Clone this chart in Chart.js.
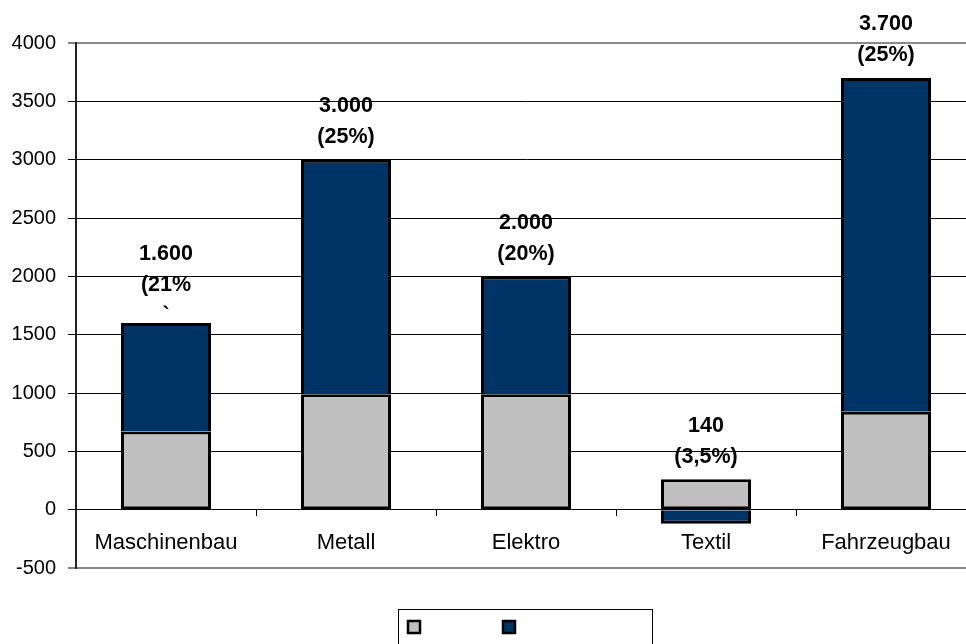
<!DOCTYPE html>
<html>
<head>
<meta charset="utf-8">
<script src="https://cdn.jsdelivr.net/npm/chart.js@4/dist/chart.umd.min.js"></script>
<style>
  html, body { margin: 0; padding: 0; background: #fff; overflow: hidden; }
  #wrap { width: 990px; height: 644px; }
</style>
</head>
<body>
<div id="wrap"><canvas id="c" width="990" height="644"></canvas></div>
<script>
// Branches on the category axis
const categories = ['Maschinenbau', 'Metall', 'Elektro', 'Textil', 'Fahrzeugbau'];
// Lower (grey) segment of each stacked bar
const baseValues = [670, 990, 990, 260, 840];
// Upper (dark blue) segment of each stacked bar
const changeValues = [930, 2010, 1010, -120, 2860];
// Text shown above each bar, one entry per line
const barLabels = [
  ['1.600', '(21%', '`'],
  ['3.000', '(25%)'],
  ['2.000', '(20%)'],
  ['140', '(3,5%)'],
  ['3.700', '(25%)']
];
// Value axis range and step
const yMin = -500;
const yMax = 4000;
const yStep = 500;

const FONT = '"Liberation Sans", Arial, Helvetica, sans-serif';

// Bold labels stacked above the top of each bar
const barLabelPlugin = {
  id: 'barLabels',
  afterDatasetsDraw(chart) {
    const ctx = chart.ctx;
    const metas = chart.data.datasets.map((d, i) => chart.getDatasetMeta(i));
    ctx.save();
    ctx.font = 'bold 21.5px ' + FONT;
    ctx.fillStyle = '#000';
    ctx.textAlign = 'center';
    ctx.textBaseline = 'middle';
    categories.forEach((cat, i) => {
      let top = Infinity, x = 0;
      metas.forEach(m => {
        const el = m.data[i];
        top = Math.min(top, el.y, el.base);
        x = el.x;
      });
      const lines = barLabels[i];
      const lh = 31;
      const center = top - 38;
      const start = center - (lines.length - 1) * lh / 2;
      lines.forEach((t, k) => ctx.fillText(t, x, start + k * lh));
    });
    ctx.restore();
  }
};

// Framed legend with colour swatches below the plot
const boxLegendPlugin = {
  id: 'boxLegend',
  afterDraw(chart) {
    const ctx = chart.ctx;
    ctx.save();
    ctx.strokeStyle = '#000';
    ctx.lineWidth = 1;
    ctx.strokeRect(398.5, 609.5, 254, 60);
    const xs = [407, 502];
    chart.data.datasets.forEach((ds, i) => {
      ctx.fillStyle = ds.backgroundColor;
      ctx.fillRect(xs[i], 620, 14, 14);
      ctx.lineWidth = 2.5;
      ctx.strokeStyle = '#000';
      ctx.strokeRect(xs[i] + 1, 621, 12, 12);
    });
    ctx.restore();
  }
};

new Chart(document.getElementById('c'), {
  type: 'bar',
  data: {
    labels: categories,
    datasets: [
      {
        label: '',
        data: baseValues,
        backgroundColor: '#C0C0C0',
        borderColor: '#000',
        borderWidth: 3,
        borderSkipped: false,
        categoryPercentage: 1,
        barPercentage: 0.5
      },
      {
        label: '',
        data: changeValues,
        backgroundColor: '#003366',
        borderColor: '#000',
        borderWidth: 3,
        borderSkipped: 'start',
        categoryPercentage: 1,
        barPercentage: 0.5
      }
    ]
  },
  options: {
    responsive: false,
    animation: false,
    devicePixelRatio: 1,
    layout: { padding: { top: 43, bottom: 76, left: 0, right: 14 } },
    plugins: {
      legend: { display: false },
      tooltip: { enabled: false }
    },
    scales: {
      x: {
        stacked: true,
        position: { y: 0 },
        offset: true,
        grid: {
          offset: true,
          drawOnChartArea: false,
          drawTicks: true,
          tickLength: 6,
          tickColor: '#000',
          lineWidth: 1
        },
        border: { display: true, color: '#000', width: 1 },
        ticks: {
          color: '#000',
          padding: 14,
          maxRotation: 0,
          autoSkip: false,
          font: { family: FONT, size: 22 }
        }
      },
      y: {
        stacked: true,
        min: yMin,
        max: yMax,
        afterFit(scale) { scale.width = 76; },
        grid: {
          color: c => (c.tick && (c.tick.value === yMax || c.tick.value === yMin)) ? '#8a8a8a' : '#000',
          lineWidth: c => (c.tick && (c.tick.value === yMax || c.tick.value === yMin)) ? 2 : 1,
          tickLength: 8,
          tickColor: '#000',
          tickWidth: 1
        },
        border: { display: true, color: '#222', width: 2 },
        ticks: {
          stepSize: yStep,
          color: '#000',
          padding: 12,
          font: { family: FONT, size: 20 },
          callback: v => String(v)
        }
      }
    }
  },
  plugins: [barLabelPlugin, boxLegendPlugin]
});
</script>
</body>
</html>
